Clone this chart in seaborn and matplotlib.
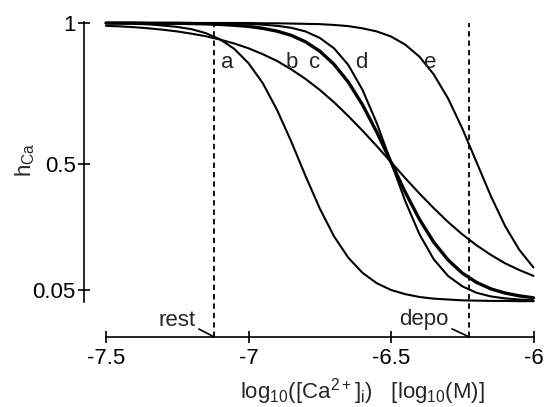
import numpy as np
import pandas as pd
import matplotlib
matplotlib.use("Agg")
import matplotlib.pyplot as plt
import seaborn as sns

# ---------------------------
# DATA
# ---------------------------
log_ca = [-7.5, -7.45, -7.4, -7.35, -7.3, -7.25, -7.2, -7.15, -7.1, -7.05,
          -7.0, -6.95, -6.9, -6.85, -6.8, -6.75, -6.7, -6.65, -6.6, -6.55,
          -6.5, -6.45, -6.4, -6.35, -6.3, -6.25, -6.2, -6.15, -6.1, -6.05, -6.0]

h_a = [0.999, 0.998, 0.997, 0.995, 0.991, 0.986, 0.978, 0.964, 0.942, 0.908,
       0.857, 0.786, 0.691, 0.578, 0.456, 0.340, 0.241, 0.165, 0.111, 0.074,
       0.050, 0.035, 0.025, 0.019, 0.016, 0.013, 0.012, 0.011, 0.011, 0.010, 0.010]
h_b = [0.990, 0.988, 0.985, 0.981, 0.976, 0.970, 0.962, 0.953, 0.941, 0.927,
       0.910, 0.889, 0.865, 0.835, 0.801, 0.762, 0.718, 0.669, 0.617, 0.562,
       0.505, 0.448, 0.393, 0.341, 0.292, 0.248, 0.209, 0.175, 0.145, 0.121, 0.100]
h_c = [1.000, 1.000, 1.000, 0.999, 0.999, 0.999, 0.998, 0.997, 0.995, 0.992,
       0.988, 0.981, 0.971, 0.956, 0.933, 0.900, 0.853, 0.790, 0.709, 0.612,
       0.505, 0.398, 0.301, 0.220, 0.157, 0.110, 0.077, 0.054, 0.039, 0.029, 0.022]
h_d = [1.000, 1.000, 1.000, 1.000, 1.000, 1.000, 1.000, 0.999, 0.999, 0.998,
       0.997, 0.994, 0.990, 0.983, 0.970, 0.947, 0.910, 0.851, 0.762, 0.644,
       0.505, 0.366, 0.248, 0.159, 0.100, 0.063, 0.040, 0.027, 0.020, 0.016, 0.013]
h_e = [1.000, 1.000, 1.000, 1.000, 1.000, 1.000, 1.000, 1.000, 1.000, 1.000,
       1.000, 0.999, 0.999, 0.998, 0.997, 0.996, 0.993, 0.989, 0.981, 0.970,
       0.952, 0.923, 0.880, 0.817, 0.732, 0.625, 0.505, 0.385, 0.278, 0.193, 0.130]

curve_names = ["a", "b", "c", "d", "e"]
rest_ca = -7.12
depo_ca = -6.225

x_ticks = [-7.5, -7.0, -6.5, -6.0]
x_ticklabels = ["-7.5", "-7", "-6.5", "-6"]
y_ticks = [0.05, 0.5, 1.0]
y_ticklabels = ["0.05", "0.5", "1"]

df = pd.DataFrame({
    "log_ca": log_ca * 5,
    "h": h_a + h_b + h_c + h_d + h_e,
    "curve": [n for n in curve_names for _ in log_ca],
})

# ---------------------------
# STYLE
# ---------------------------
sns.set_style("white")
plt.rcParams["font.family"] = ["Liberation Sans", "DejaVu Sans"]
plt.rcParams["mathtext.fontset"] = "custom"
plt.rcParams["mathtext.rm"] = "Liberation Sans"
plt.rcParams["axes.unicode_minus"] = False
FS = 16


# pixel position in the 550x407 picture -> data units
def px(x):
    return -7.5 + (x - 106) / 285.0


def py(y):
    return 1.0 - (y - 23) / 281.0


fig = plt.figure(figsize=(5.5, 4.07), dpi=100)
ax = fig.add_axes([0, 0, 1, 1])
ax.set_xlim(px(0), px(550))
ax.set_ylim(py(407), py(0))

for name in curve_names:
    sub = df[df["curve"] == name]
    sns.lineplot(data=sub, x="log_ca", y="h", ax=ax, color="black",
                 linewidth=2.4 if name == "c" else 1.5, legend=False)

# rest / depo markers
axis_y = py(337)
for xv in [rest_ca, depo_ca]:
    ax.plot([xv, xv], [axis_y, 1.0], color="black", lw=1.3,
            linestyle=(0, (3, 2.2)))

ax.annotate("rest", xy=(rest_ca, axis_y), xytext=(px(177), py(320)),
            ha="center", va="center", fontsize=FS,
            arrowprops=dict(arrowstyle="-", lw=1.2, color="black",
                            shrinkA=0, shrinkB=0, relpos=(1.0, 0.15)))
ax.annotate("depo", xy=(depo_ca, axis_y), xytext=(px(424), py(320)),
            ha="center", va="center", fontsize=FS,
            arrowprops=dict(arrowstyle="-", lw=1.2, color="black",
                            shrinkA=0, shrinkB=0, relpos=(1.0, 0.15)))

# curve letters
for name, xp in zip(curve_names, [227, 292, 315, 361, 430]):
    ax.text(px(xp), py(63), name, ha="center", va="center", fontsize=FS)

# ---------------------------
# AXES
# ---------------------------
for s in ["top", "right"]:
    ax.spines[s].set_visible(False)
ax.spines["left"].set_position(("data", px(84)))
ax.spines["left"].set_bounds(py(302), py(22))
ax.spines["bottom"].set_position(("data", axis_y))
ax.spines["bottom"].set_bounds(-7.5, -6.0)
for s in ["left", "bottom"]:
    ax.spines[s].set_linewidth(1.2)
    ax.spines[s].set_color("black")

ax.set_xticks(x_ticks)
ax.set_xticklabels(x_ticklabels)
ax.set_yticks(y_ticks)
ax.set_yticklabels(y_ticklabels)
ax.tick_params(axis="both", direction="inout", length=8, width=1.2,
               labelsize=FS, colors="black", bottom=True, left=True)
ax.tick_params(axis="x", pad=4)
ax.tick_params(axis="y", pad=2)
ax.set_xlabel("")
ax.set_ylabel("")

ax.text(px(362), py(392),
        r"log$_{10}$([Ca$^{2+}$]$_{\mathrm{i}}$)   [log$_{10}$(M)]",
        ha="center", va="center", fontsize=FS)
ax.text(px(25), py(160), r"h$_{\mathrm{Ca}}$", rotation=90,
        ha="center", va="center", fontsize=FS)

fig.savefig("out.png", dpi=100)
